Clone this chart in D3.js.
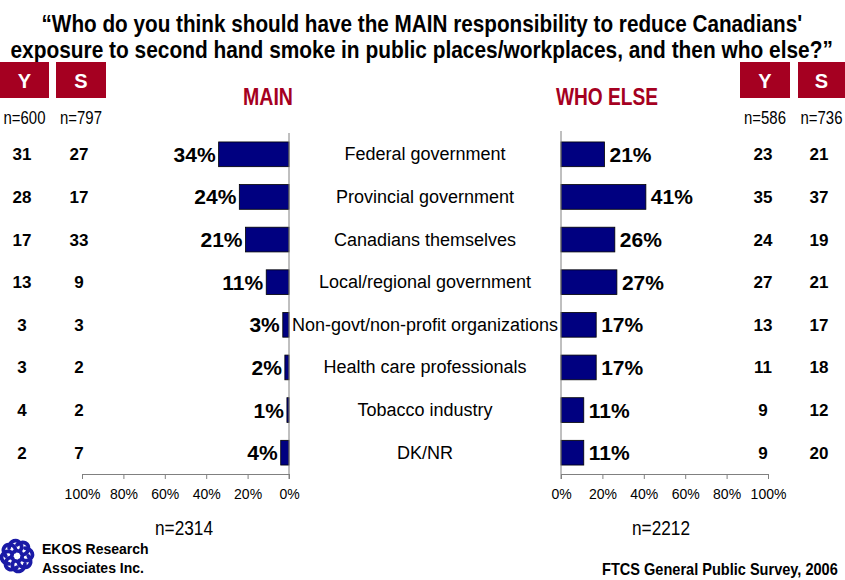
<!DOCTYPE html>
<html>
<head>
<meta charset="utf-8">
<script src="https://cdn.jsdelivr.net/npm/d3@7"></script>
<style>
  body { margin: 0; background: #fff; }
  svg { display: block; }
</style>
</head>
<body>
<svg id="chart" width="845" height="580"></svg>
<script>
// Survey responses: main responsibility vs. who else
const categories = [
  "Federal government",
  "Provincial government",
  "Canadians themselves",
  "Local/regional government",
  "Non-govt/non-profit organizations",
  "Health care professionals",
  "Tobacco industry",
  "DK/NR"
];
const mainValues = [34, 24, 21, 11, 3, 2, 1, 4];
const elseValues = [21, 41, 26, 27, 17, 17, 11, 11];
const mainY = [31, 28, 17, 13, 3, 3, 4, 2];
const mainS = [27, 17, 33, 9, 3, 2, 2, 7];
const elseY = [23, 35, 24, 27, 13, 11, 9, 9];
const elseS = [21, 37, 19, 21, 17, 18, 12, 20];
const tickValues = [0, 20, 40, 60, 80, 100];
const titleLines = [
  "\u201CWho do you think should have the MAIN responsibility to reduce Canadians'",
  "exposure to second hand smoke in public places/workplaces, and then who else?\u201D"
];

const svg = d3.select("#chart");
const SANS = "'Liberation Sans', Arial, sans-serif";
const RED = "#a50021";
const NAVY = "#000080";

// Condensed text: draw at natural size, then squeeze horizontally to a target width.
// anchor: "start" | "middle" | "end" relative to x.
function squeezed(x, y, str, width, opts) {
  const g = svg.append("g");
  const t = g.append("text")
    .style("font-family", SANS)
    .style("font-weight", opts.bold ? "bold" : "normal")
    .style("font-size", opts.size + "px")
    .attr("fill", opts.fill || "#000")
    .text(str);
  const natural = t.node().getComputedTextLength();
  const sx = Math.min(1, width / natural);
  const w = natural * sx;
  const left = opts.anchor === "middle" ? x - w / 2 : opts.anchor === "end" ? x - w : x;
  g.attr("transform", `translate(${left},${y}) scale(${sx},1)`);
  return g;
}

// Title
squeezed(422, 32, titleLines[0], 761, { size: 23, bold: true, anchor: "middle" });
squeezed(422, 58, titleLines[1], 823, { size: 23, bold: true, anchor: "middle" });

// Scales
const y = d3.scaleBand().domain(categories).range([133, 474]).paddingInner(0.42).paddingOuter(0.21);
const xMain = d3.scaleLinear().domain([0, 100]).range([289, 82]);
const xElse = d3.scaleLinear().domain([0, 100]).range([561, 768]);
const rowY = c => y(c) + y.bandwidth() / 2;

// Panel headers
squeezed(268, 105, "MAIN", 50, { size: 23, bold: true, fill: RED, anchor: "middle" });
squeezed(607, 105, "WHO ELSE", 102, { size: 23, bold: true, fill: RED, anchor: "middle" });

// Y / S badges with sample sizes
const badges = [
  { x: 0, w: 49, label: "Y", n: "n=600" },
  { x: 56, w: 50, label: "S", n: "n=797" },
  { x: 740, w: 50, label: "Y", n: "n=586" },
  { x: 798, w: 47, label: "S", n: "n=736" }
];
svg.append("g").selectAll("rect").data(badges).join("rect")
  .attr("x", d => d.x).attr("y", 62).attr("width", d => d.w).attr("height", 36).attr("fill", RED);
badges.forEach(d => {
  squeezed(d.x + d.w / 2, 88, d.label, 15, { size: 20, bold: true, fill: "#fff", anchor: "middle" });
  squeezed(d.x + d.w / 2, 124, d.n, 42, { size: 18, anchor: "middle" });
});

// Side columns of Y/S values
function column(values, cx) {
  svg.append("g").selectAll("text").data(values).join("text")
    .attr("x", cx).attr("y", (d, i) => rowY(categories[i]) + 6)
    .attr("text-anchor", "middle")
    .style("font-family", SANS).style("font-weight", "bold").style("font-size", "17px")
    .text(d => d);
}
column(mainY, 22);
column(mainS, 79);
column(elseY, 763);
column(elseS, 819);

// MAIN bars
svg.append("g").selectAll("rect").data(mainValues).join("rect")
  .attr("x", d => xMain(d)).attr("y", (d, i) => y(categories[i]))
  .attr("width", d => xMain(0) - xMain(d)).attr("height", y.bandwidth())
  .attr("fill", NAVY).attr("stroke", "#000").attr("stroke-width", 0.8);
svg.append("g").selectAll("text").data(mainValues).join("text")
  .attr("x", d => xMain(d) - 3).attr("y", (d, i) => rowY(categories[i]) + 7.5)
  .attr("text-anchor", "end")
  .style("font-family", SANS).style("font-weight", "bold").style("font-size", "21px")
  .text(d => d + "%");

// WHO ELSE bars
svg.append("g").selectAll("rect").data(elseValues).join("rect")
  .attr("x", xElse(0)).attr("y", (d, i) => y(categories[i]))
  .attr("width", d => xElse(d) - xElse(0)).attr("height", y.bandwidth())
  .attr("fill", NAVY).attr("stroke", "#000").attr("stroke-width", 0.8);
svg.append("g").selectAll("text").data(elseValues).join("text")
  .attr("x", d => xElse(d) + 5).attr("y", (d, i) => rowY(categories[i]) + 7.5)
  .attr("text-anchor", "start")
  .style("font-family", SANS).style("font-weight", "bold").style("font-size", "21px")
  .text(d => d + "%");

// Category labels between panels
svg.append("g").selectAll("text").data(categories).join("text")
  .attr("x", 425).attr("y", d => rowY(d) + 6)
  .attr("text-anchor", "middle")
  .style("font-family", SANS).style("font-size", "18px")
  .text(d => d);

// Axes
function styleAxis(g) {
  g.select(".domain").attr("stroke", "#808080");
  g.selectAll(".tick line").attr("stroke", "#808080");
  g.selectAll(".tick text").style("font-family", SANS).style("font-size", "14px").attr("fill", "#000");
}
svg.append("g").attr("transform", "translate(0,474)")
  .call(d3.axisBottom(xMain).tickValues(tickValues).tickFormat(d => d + "%").tickSizeOuter(0).tickSize(5).tickPadding(10))
  .call(styleAxis);
svg.append("g").attr("transform", "translate(0,474)")
  .call(d3.axisBottom(xElse).tickValues(tickValues).tickFormat(d => d + "%").tickSizeOuter(0).tickSize(5).tickPadding(10))
  .call(styleAxis);
// Vertical baselines
svg.append("line").attr("x1", xMain(0)).attr("x2", xMain(0)).attr("y1", 133).attr("y2", 479).attr("stroke", "#808080");
svg.append("line").attr("x1", xElse(0)).attr("x2", xElse(0)).attr("y1", 131).attr("y2", 479).attr("stroke", "#808080");

// Base sizes
squeezed(184, 535, "n=2314", 58, { size: 20, anchor: "middle" });
squeezed(661, 535, "n=2212", 58, { size: 20, anchor: "middle" });

// Source
squeezed(838, 575, "FTCS General Public Survey, 2006", 236, { size: 16, bold: true, anchor: "end" });

// EKOS logo mark: ring of curled shapes
const logo = svg.append("g").attr("transform", "translate(17,556) scale(1.25)");
d3.range(8).forEach(i => {
  const g = logo.append("g").attr("transform", `rotate(${i * 45})`);
  g.append("path").attr("d", "M0,-9 C5,-13 10,-10 9,-5 C8,-1 4,0 3,-3")
    .attr("fill", "none").attr("stroke", "#1a1aa6").attr("stroke-width", 3).attr("stroke-linecap", "round");
});
squeezed(42, 554, "EKOS Research", 109, { size: 14, bold: true, anchor: "start" });
squeezed(42, 573, "Associates Inc.", 104, { size: 14, bold: true, anchor: "start" });
</script>
</body>
</html>
